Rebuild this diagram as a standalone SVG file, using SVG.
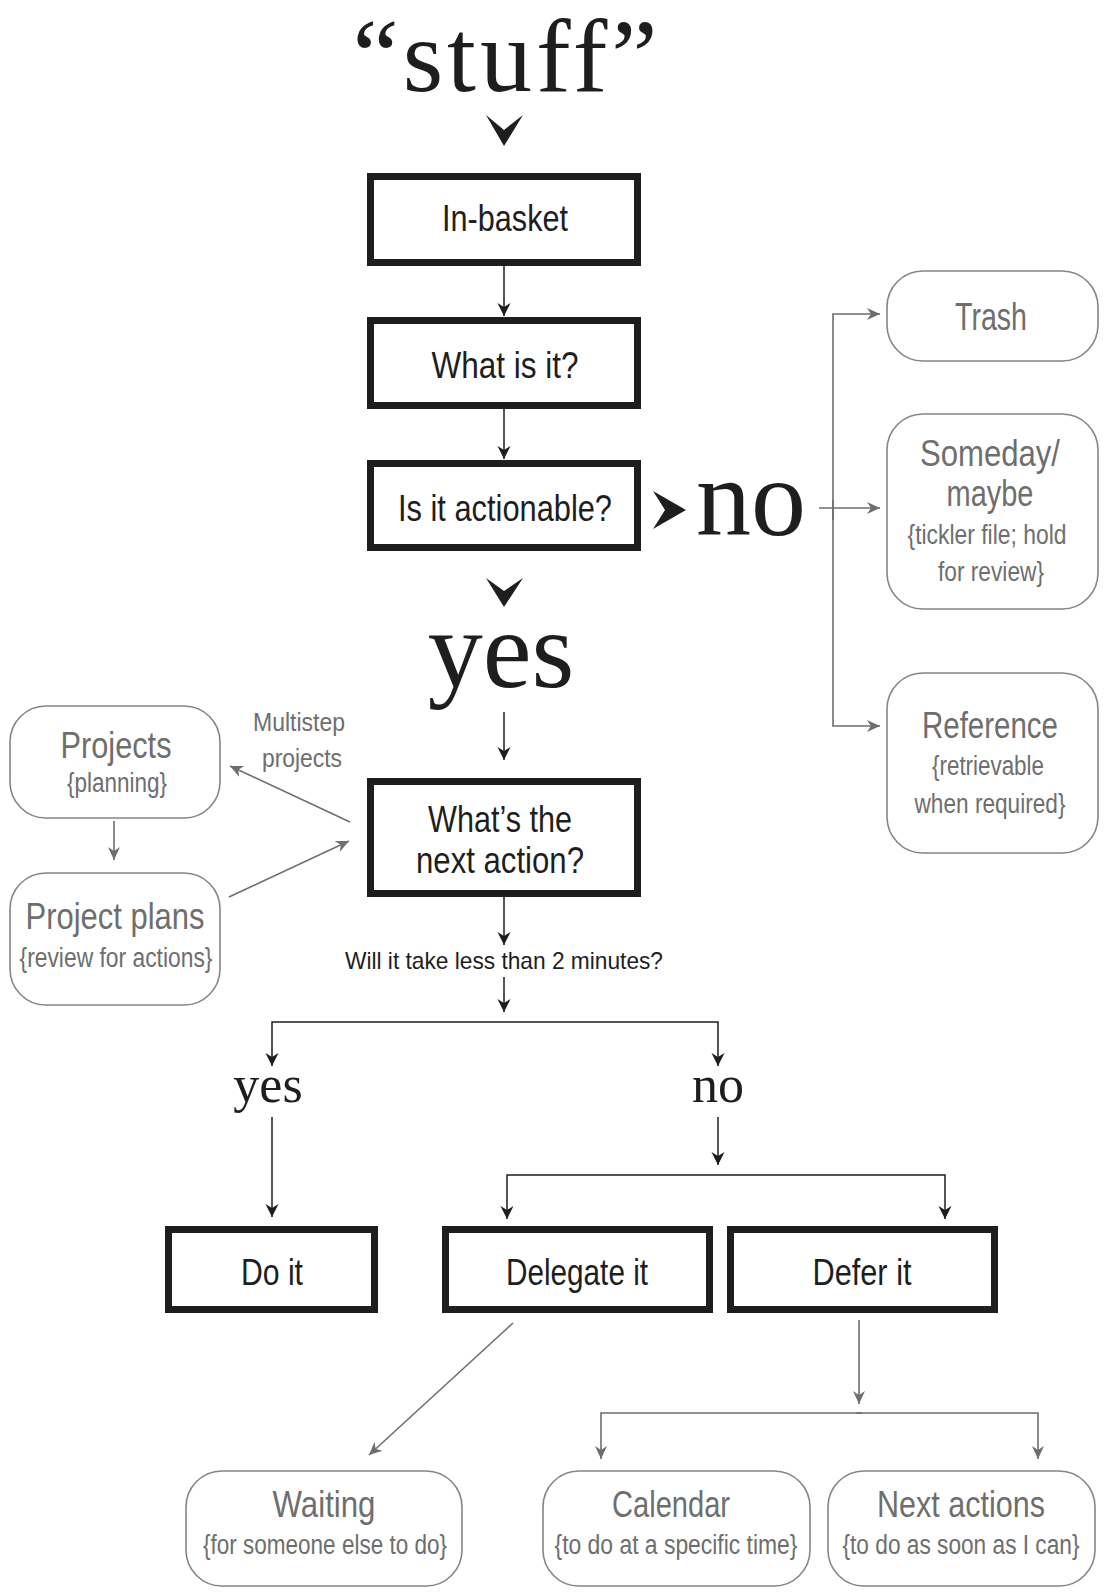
<svg xmlns="http://www.w3.org/2000/svg" width="1108" height="1592" viewBox="0 0 1108 1592">
<defs>
<style>
.bx{fill:#fff;stroke:#1e1e1e;stroke-width:7}
.rb{fill:#fff;stroke:#858585;stroke-width:1.6}
.lb{font-family:"Liberation Sans Narrow","Liberation Sans",sans-serif;fill:#1e1e1e;text-anchor:middle}
.gl{font-family:"Liberation Sans Narrow","Liberation Sans",sans-serif;fill:#6e6e6e;text-anchor:middle}
.sf{font-family:"Liberation Serif","Times New Roman",serif;fill:#1e1e1e;text-anchor:middle}
.cb{fill:none;stroke:#1e1e1e;stroke-width:1.5}
.cg{fill:none;stroke:#6e6e6e;stroke-width:1.6}
</style>
<marker id="ah" markerUnits="userSpaceOnUse" markerWidth="14" markerHeight="14" refX="13" refY="6.5" orient="auto">
<path d="M0,0 L13,6.5 L0,13 L4,6.5 z" fill="#1e1e1e"/>
</marker>
<marker id="ahg" markerUnits="userSpaceOnUse" markerWidth="14" markerHeight="14" refX="13" refY="6.5" orient="auto">
<path d="M0,0.5 L13,6.5 L0,12.5 L4,6.5 z" fill="#6e6e6e"/>
</marker>
</defs>
<rect width="1108" height="1592" fill="#fff"/>

<g id="stuff">
<text class="sf" x="505" y="91" font-size="104" textLength="305" lengthAdjust="spacing">“stuff”</text>
</g>

<g id="connectors">
<polygon points="486,115 504,130 523,115 504,146" fill="#1e1e1e"/>
<line class="cb" x1="504" y1="266" x2="504" y2="316" marker-end="url(#ah)"/>
<line class="cb" x1="504" y1="409" x2="504" y2="459" marker-end="url(#ah)"/>
<polygon points="653,491 686,510 653,529 665,510" fill="#1e1e1e"/>
<polygon points="486,578 504,591 523,578 504,607" fill="#1e1e1e"/>
<line class="cb" x1="504" y1="712" x2="504" y2="760" marker-end="url(#ah)"/>
<line class="cb" x1="504" y1="897" x2="504" y2="945" marker-end="url(#ah)"/>
<line class="cb" x1="504" y1="977" x2="504" y2="1012" marker-end="url(#ah)"/>
<path class="cb" d="M495,1022 H272 V1066" marker-end="url(#ah)"/>
<path class="cb" d="M495,1022 H718 V1066" marker-end="url(#ah)"/>
<line class="cb" x1="272" y1="1117" x2="272" y2="1217" marker-end="url(#ah)"/>
<line class="cb" x1="718" y1="1117" x2="718" y2="1165" marker-end="url(#ah)"/>
<path class="cb" d="M720,1175 H507 V1219" marker-end="url(#ah)"/>
<path class="cb" d="M720,1175 H945 V1219" marker-end="url(#ah)"/>

<line class="cg" x1="819" y1="508" x2="880" y2="508" marker-end="url(#ahg)"/>
<path class="cg" d="M833,520 V314 H880" marker-end="url(#ahg)"/>
<path class="cg" d="M833,500 V726 H880" marker-end="url(#ahg)"/>
<line class="cg" x1="350" y1="822" x2="230" y2="766" marker-end="url(#ahg)"/>
<line class="cg" x1="229" y1="897" x2="349" y2="841" marker-end="url(#ahg)"/>
<line class="cg" x1="114" y1="821" x2="114" y2="860" marker-end="url(#ahg)"/>
<line class="cg" x1="513" y1="1323" x2="369" y2="1455" marker-end="url(#ahg)"/>
<line class="cg" x1="859" y1="1320" x2="859" y2="1404" marker-end="url(#ahg)"/>
<path class="cg" d="M862,1413 H601 V1459" marker-end="url(#ahg)"/>
<path class="cg" d="M856,1413 H1038 V1459" marker-end="url(#ahg)"/>
</g>

<g id="in-basket">
<rect class="bx" x="370.5" y="176.5" width="267" height="86"/>
<text class="lb" x="505" y="231" font-size="36" textLength="126" lengthAdjust="spacingAndGlyphs">In-basket</text>
</g>
<g id="what-is-it">
<rect class="bx" x="370.5" y="320.5" width="267" height="85"/>
<text class="lb" x="505" y="378" font-size="36" textLength="147" lengthAdjust="spacingAndGlyphs">What is it?</text>
</g>
<g id="actionable">
<rect class="bx" x="370.5" y="463.5" width="267" height="84"/>
<text class="lb" x="505" y="521" font-size="36" textLength="214" lengthAdjust="spacingAndGlyphs">Is it actionable?</text>
</g>
<g id="no-label">
<text class="sf" x="751" y="535" font-size="110">no</text>
</g>
<g id="yes-label">
<text class="sf" x="501" y="687" font-size="110">yes</text>
</g>

<g id="trash">
<rect class="rb" x="887" y="271" width="211" height="90" rx="36"/>
<text class="gl" x="991" y="330" font-size="38" textLength="72" lengthAdjust="spacingAndGlyphs">Trash</text>
</g>
<g id="someday">
<rect class="rb" x="887" y="414" width="211" height="195" rx="36"/>
<text class="gl" x="990" y="466" font-size="37" textLength="140" lengthAdjust="spacingAndGlyphs">Someday/</text>
<text class="gl" x="990" y="506" font-size="37" textLength="87" lengthAdjust="spacingAndGlyphs">maybe</text>
<text class="gl" x="987" y="544" font-size="27" textLength="159" lengthAdjust="spacingAndGlyphs">{tickler file; hold</text>
<text class="gl" x="991" y="581" font-size="27" textLength="106" lengthAdjust="spacingAndGlyphs">for review}</text>
</g>
<g id="reference">
<rect class="rb" x="887" y="673" width="211" height="180" rx="36"/>
<text class="gl" x="990" y="738" font-size="37" textLength="136" lengthAdjust="spacingAndGlyphs">Reference</text>
<text class="gl" x="988" y="775" font-size="27" textLength="112" lengthAdjust="spacingAndGlyphs">{retrievable</text>
<text class="gl" x="990" y="813" font-size="27" textLength="151" lengthAdjust="spacingAndGlyphs">when required}</text>
</g>

<g id="multistep-label">
<text class="gl" x="299" y="731" font-size="26" textLength="92" lengthAdjust="spacingAndGlyphs">Multistep</text>
<text class="gl" x="302" y="767" font-size="26" textLength="80" lengthAdjust="spacingAndGlyphs">projects</text>
</g>
<g id="projects">
<rect class="rb" x="10" y="706" width="210" height="112" rx="36"/>
<text class="gl" x="116" y="758" font-size="37" textLength="111" lengthAdjust="spacingAndGlyphs">Projects</text>
<text class="gl" x="117" y="792" font-size="27" textLength="100" lengthAdjust="spacingAndGlyphs">{planning}</text>
</g>
<g id="project-plans">
<rect class="rb" x="10" y="873" width="210" height="132" rx="36"/>
<text class="gl" x="115" y="929" font-size="37" textLength="179" lengthAdjust="spacingAndGlyphs">Project plans</text>
<text class="gl" x="116" y="967" font-size="27" textLength="193" lengthAdjust="spacingAndGlyphs">{review for actions}</text>
</g>

<g id="next-action">
<rect class="bx" x="370.5" y="781.5" width="267" height="112"/>
<text class="lb" x="500" y="832" font-size="36" textLength="144" lengthAdjust="spacingAndGlyphs">What’s the</text>
<text class="lb" x="500" y="873" font-size="36" textLength="168" lengthAdjust="spacingAndGlyphs">next action?</text>
</g>
<g id="two-minutes">
<text class="lb" x="504" y="969" font-size="24" textLength="318" lengthAdjust="spacingAndGlyphs">Will it take less than 2 minutes?</text>
</g>
<g id="yes-small">
<text class="sf" x="268" y="1102" font-size="52">yes</text>
</g>
<g id="no-small">
<text class="sf" x="718" y="1102" font-size="52">no</text>
</g>

<g id="do-it">
<rect class="bx" x="168.5" y="1229.5" width="206" height="80"/>
<text class="lb" x="272" y="1285" font-size="36" textLength="62" lengthAdjust="spacingAndGlyphs">Do it</text>
</g>
<g id="delegate-it">
<rect class="bx" x="445.5" y="1229.5" width="264" height="80"/>
<text class="lb" x="577" y="1285" font-size="36" textLength="142" lengthAdjust="spacingAndGlyphs">Delegate it</text>
</g>
<g id="defer-it">
<rect class="bx" x="730.5" y="1229.5" width="264" height="80"/>
<text class="lb" x="862" y="1285" font-size="36" textLength="99" lengthAdjust="spacingAndGlyphs">Defer it</text>
</g>

<g id="waiting">
<rect class="rb" x="186" y="1471" width="276" height="115" rx="36"/>
<text class="gl" x="324" y="1517" font-size="37" textLength="103" lengthAdjust="spacingAndGlyphs">Waiting</text>
<text class="gl" x="325" y="1554" font-size="27" textLength="244" lengthAdjust="spacingAndGlyphs">{for someone else to do}</text>
</g>
<g id="calendar">
<rect class="rb" x="543" y="1471" width="267" height="115" rx="36"/>
<text class="gl" x="671" y="1517" font-size="37" textLength="118" lengthAdjust="spacingAndGlyphs">Calendar</text>
<text class="gl" x="676" y="1554" font-size="27" textLength="243" lengthAdjust="spacingAndGlyphs">{to do at a specific time}</text>
</g>
<g id="next-actions">
<rect class="rb" x="828" y="1471" width="267" height="115" rx="36"/>
<text class="gl" x="961" y="1517" font-size="37" textLength="168" lengthAdjust="spacingAndGlyphs">Next actions</text>
<text class="gl" x="961" y="1554" font-size="27" textLength="237" lengthAdjust="spacingAndGlyphs">{to do as soon as I can}</text>
</g>
</svg>
